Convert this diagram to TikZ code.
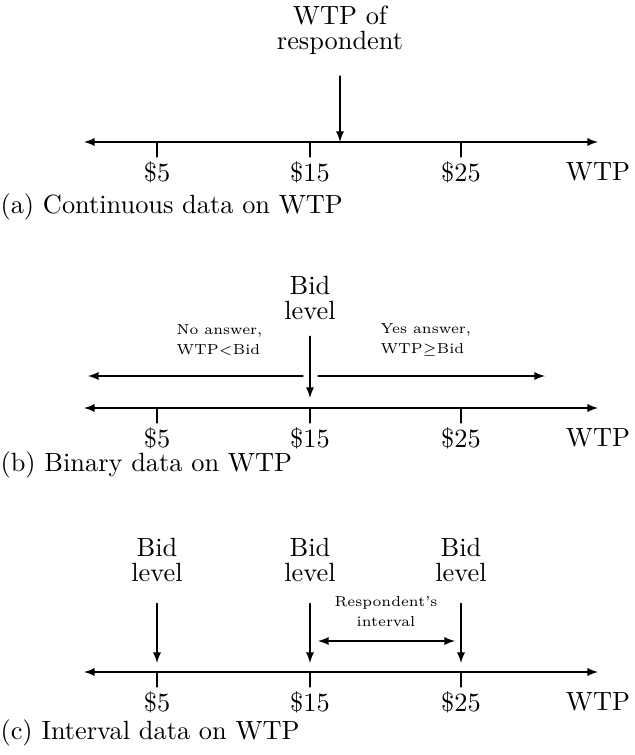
\documentclass[tikz,border=0pt]{standalone}
\usepackage{amsmath,amssymb}
\usepackage{tikz}

\tikzset{
  lbl/.style={font={\fontsize{10}{9.5}\selectfont}, align=center, inner sep=0pt},
  small/.style={font={\fontsize{5.5}{7.6}\selectfont}, align=left, inner sep=0pt},
  caption/.style={anchor=west, inner sep=0pt},
}

\begin{document}
\begin{tikzpicture}[line cap=round, line join=round, x=0.01333cm, y=-0.01333cm, >=latex]
    \useasboundingbox (0,0) rectangle (634,755);

    % (a) Continuous
    \coordinate (aL) at (84,142);
    \coordinate (aR) at (598,142);
    \draw[<->] (aL) -- (aR);
    \foreach \x/\v in {157/5, 310/15, 461/25} {
        \draw (\x,142) -- (\x,157);
        \node at (\x,172) {\$\v};
    }
    \node (aW) at (598,172) {WTP};
    \node[lbl] (resp) at (340,30) {WTP of\\respondent};
    \coordinate (respT) at (340,142);
    \draw[->, shorten <=8pt] (resp) -- (respT);
    \node[caption] (capA) at (0,207) {(a) Continuous data on WTP};

    % (b) Binary
    \coordinate (bL) at (84,408);
    \coordinate (bR) at (598,408);
    \draw[<->] (bL) -- (bR);
    \foreach \x/\v in {157/5, 310/15, 461/25} {
        \draw (\x,408) -- (\x,423);
        \node at (\x,438) {\$\v};
    }
    \node (bW) at (598,438) {WTP};
    \node[lbl] (bid) at (310,298) {Bid\\level};
    \coordinate (bidT) at (310,398);
    \draw[->, shorten <=6pt] (bid) -- (bidT);
    \coordinate (noS) at (303,376);
    \coordinate (noE) at (88,376);
    \coordinate (yesS) at (318,376);
    \coordinate (yesE) at (545,376);
    \draw[->] (noS) -- (noE);
    \draw[->] (yesS) -- (yesE);
    \node[small, anchor=west] (no) at (176,340) {No answer,\\WTP$<$Bid};
    \node[small, anchor=west] (yes) at (380,340) {Yes answer,\\WTP$\geq$Bid};
    \node[caption] (capB) at (0,465) {(b) Binary data on WTP};

    % (c) Interval
    \coordinate (cL) at (84,672);
    \coordinate (cR) at (598,672);
    \draw[<->] (cL) -- (cR);
    \foreach \x/\v in {157/5, 310/15, 461/25} {
        \draw (\x,672) -- (\x,687);
        \node at (\x,702) {\$\v};
        \node[lbl] (bid\v) at (\x,560) {Bid\\level};
        \coordinate (bidT\v) at (\x,663);
        \draw[->, shorten <=8pt] (bid\v) -- (bidT\v);
    }
    \node (cW) at (598,702) {WTP};
    \node[small, align=center] (intv) at (386,612) {Respondent's\\interval};
    \coordinate (intvL) at (318,641);
    \coordinate (intvR) at (455,641);
    \draw[<->] (intvL) -- (intvR);
    \node[caption] (capC) at (0,733) {(c) Interval data on WTP};
\end{tikzpicture}
\end{document}
